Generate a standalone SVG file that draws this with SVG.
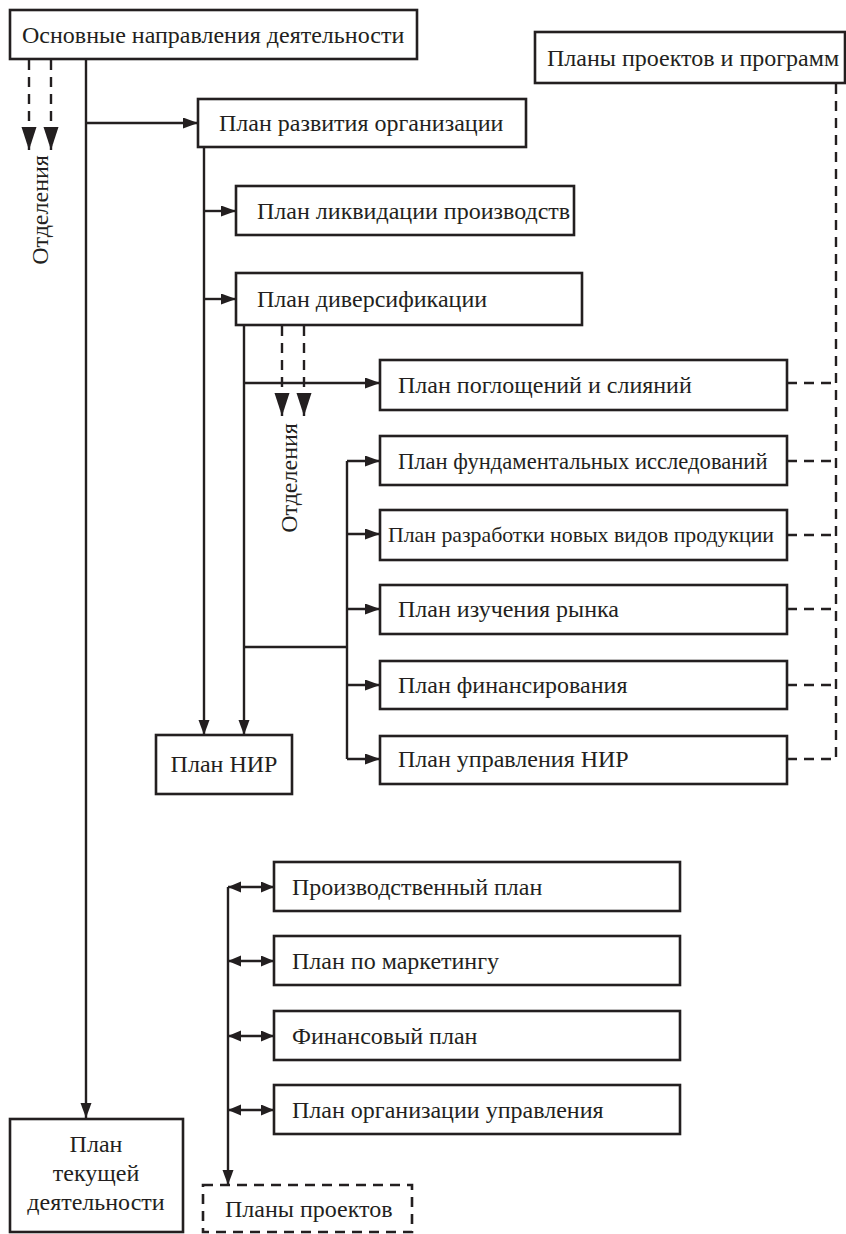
<svg xmlns="http://www.w3.org/2000/svg" width="846" height="1234" viewBox="0 0 846 1234">
<style>
.box{fill:#fff;stroke:#231f20;stroke-width:2.6}
.dbox{fill:#fff;stroke:#231f20;stroke-width:2.6;stroke-dasharray:10 7}
text{font-family:'Liberation Serif','Times New Roman',serif;font-size:24px;fill:#231f20}
.s{font-size:21.8px}
.m{font-size:22.6px}
.c{text-anchor:middle}
.ln{fill:none;stroke:#231f20;stroke-width:2.4}
.dl{fill:none;stroke:#231f20;stroke-width:2.4;stroke-dasharray:10 7}
</style>
<defs>
<marker id="a" markerUnits="userSpaceOnUse" markerWidth="16" markerHeight="12" refX="15" refY="5.5" orient="auto"><path d="M0,0 L15,5.5 L0,11 z" fill="#231f20"/></marker>
<marker id="ab" markerUnits="userSpaceOnUse" markerWidth="24" markerHeight="16" refX="23" refY="7.5" orient="auto"><path d="M0,0 L23,7.5 L0,15 z" fill="#231f20"/></marker>
<marker id="ad" markerUnits="userSpaceOnUse" markerWidth="14" markerHeight="12" refX="13" refY="5.5" orient="auto-start-reverse"><path d="M0,0 L13,5.5 L0,11 z" fill="#231f20"/></marker>
</defs>
<g id="connectors">
<path class="dl" d="M29,60 V150" marker-end="url(#ab)"/>
<path class="dl" d="M51,60 V150" marker-end="url(#ab)"/>
<path class="ln" d="M86,60 V1118" marker-end="url(#a)"/>
<path class="ln" d="M86,123 H198" marker-end="url(#a)"/>
<path class="ln" d="M204,147 V735" marker-end="url(#a)"/>
<path class="ln" d="M204,211 H236" marker-end="url(#a)"/>
<path class="ln" d="M204,299 H236" marker-end="url(#a)"/>
<path class="ln" d="M244,325 V735" marker-end="url(#a)"/>
<path class="dl" d="M282,326 V416" marker-end="url(#ab)"/>
<path class="dl" d="M304,326 V416" marker-end="url(#ab)"/>
<path class="ln" d="M244,383 H380" marker-end="url(#a)"/>
<path class="ln" d="M244,647 H347"/>
<path class="ln" d="M347,461 V759"/>
<path class="ln" d="M347,461 H380" marker-end="url(#a)"/>
<path class="ln" d="M347,534 H380" marker-end="url(#a)"/>
<path class="ln" d="M347,609 H380" marker-end="url(#a)"/>
<path class="ln" d="M347,685 H380" marker-end="url(#a)"/>
<path class="ln" d="M347,759 H380" marker-end="url(#a)"/>
<path class="dl" d="M836,84 V759"/>
<path class="dl" d="M787,383 H836"/>
<path class="dl" d="M787,461 H836"/>
<path class="dl" d="M787,535 H836"/>
<path class="dl" d="M787,609 H836"/>
<path class="dl" d="M787,685 H836"/>
<path class="dl" d="M787,759 H836"/>
<path class="ln" d="M228,887 V1185" marker-end="url(#a)"/>
<path class="ln" d="M228,887 H274" marker-start="url(#ad)" marker-end="url(#ad)"/>
<path class="ln" d="M228,961 H274" marker-start="url(#ad)" marker-end="url(#ad)"/>
<path class="ln" d="M228,1036 H274" marker-start="url(#ad)" marker-end="url(#ad)"/>
<path class="ln" d="M228,1110 H274" marker-start="url(#ad)" marker-end="url(#ad)"/>
</g>
<g id="n-main"><rect class="box" x="10" y="10" width="407" height="49"/><text x="22" y="43">Основные направления деятельности</text></g>
<g id="n-otd1"><text class="c" transform="translate(48,210) rotate(-90)">Отделения</text></g>
<g id="n-projprog"><rect class="box" x="535" y="32" width="310" height="51"/><text x="547" y="66">Планы проектов и программ</text></g>
<g id="n-razv"><rect class="box" x="198" y="99" width="328" height="48"/><text x="219" y="131">План развития организации</text></g>
<g id="n-likv"><rect class="box" x="236" y="186" width="338" height="49"/><text x="257" y="219">План ликвидации производств</text></g>
<g id="n-div"><rect class="box" x="236" y="273" width="346" height="52"/><text x="257" y="307">План диверсификации</text></g>
<g id="n-otd2"><text class="c" transform="translate(297,478) rotate(-90)">Отделения</text></g>
<g id="n-pogl"><rect class="box" x="380" y="360" width="407" height="50"/><text x="398" y="393">План поглощений и слияний</text></g>
<g id="n-fund"><rect class="box" x="380" y="436" width="407" height="49"/><text class="m" x="398" y="469">План фундаментальных исследований</text></g>
<g id="n-razr"><rect class="box" x="380" y="510" width="407" height="50"/><text class="s" x="388" y="542">План разработки новых видов продукции</text></g>
<g id="n-rynok"><rect class="box" x="380" y="585" width="407" height="49"/><text x="398" y="617">План изучения рынка</text></g>
<g id="n-fin"><rect class="box" x="380" y="661" width="407" height="48"/><text x="398" y="693">План финансирования</text></g>
<g id="n-upr"><rect class="box" x="380" y="736" width="407" height="48"/><text x="398" y="767">План управления НИР</text></g>
<g id="n-nir"><rect class="box" x="156" y="735" width="136" height="59"/><text class="c" x="224" y="772">План НИР</text></g>
<g id="n-proizv"><rect class="box" x="274" y="862" width="406" height="49"/><text x="292" y="895">Производственный план</text></g>
<g id="n-mark"><rect class="box" x="274" y="936" width="406" height="49"/><text x="292" y="969">План по маркетингу</text></g>
<g id="n-finplan"><rect class="box" x="274" y="1011" width="406" height="49"/><text x="292" y="1044">Финансовый план</text></g>
<g id="n-orgupr"><rect class="box" x="274" y="1085" width="406" height="49"/><text x="292" y="1118">План организации управления</text></g>
<g id="n-tek"><rect class="box" x="10" y="1119" width="173" height="113"/><text class="c" x="96" y="1152">План</text><text class="c" x="96" y="1181">текущей</text><text class="c" x="96" y="1210">деятельности</text></g>
<g id="n-proj"><rect class="dbox" x="203" y="1185" width="209" height="47"/><text x="225" y="1217">Планы проектов</text></g>
</svg>
